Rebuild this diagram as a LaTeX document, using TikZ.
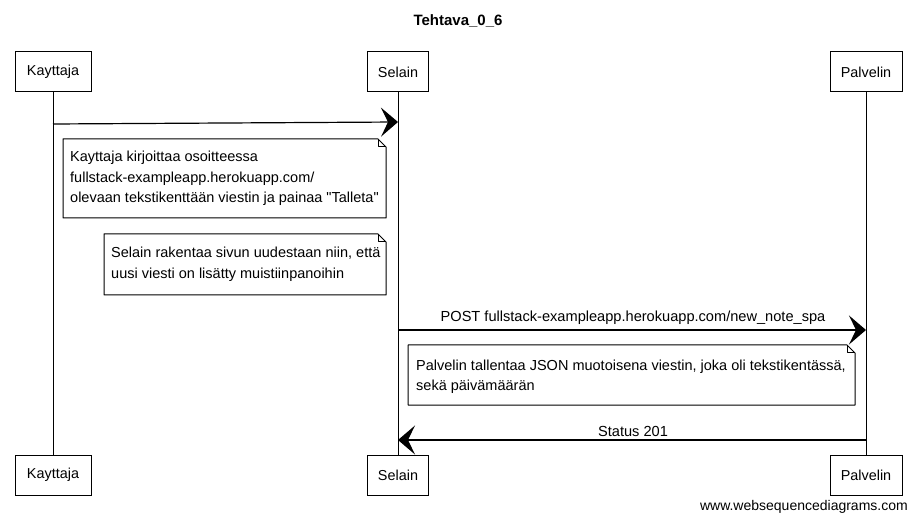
\documentclass[tikz,border=0pt]{standalone}
\usepackage{fontspec}
\setmainfont{Liberation Sans}[Ligatures=TeXOff]
\usetikzlibrary{arrows.meta}
\begin{document}
\begin{tikzpicture}[x=1pt,y=-1pt,
  lbl/.style={font=\fontsize{14.6}{17}\selectfont, inner sep=0pt},
  actor/.style={draw, line width=1pt, minimum height=40pt, inner sep=0pt, font=\fontsize{14.4}{17}\selectfont},
  notetext/.style={anchor=west, inner sep=0pt, align=left, font=\fontsize{14.5}{20.5}\selectfont},
  noteline/.style={line width=1pt, line join=round},
  life/.style={line width=0.8pt},
  msg/.style={line width=1.2pt, -{Stealth[length=17pt,width=29pt,inset=7pt]}}
]
\useasboundingbox (0,0) rectangle (916,521);
\node[font=\bfseries\fontsize{15}{18}\selectfont] (title) at (458,21) {Tehtava\_0\_6};

% actors top
\node[actor, minimum width=76pt] (kt) at (53,72) {Kayttaja};
\node[actor, minimum width=61pt] (st) at (398,72) {Selain};
\node[actor, minimum width=72pt] (pt) at (866,72) {Palvelin};
% actors bottom
\node[actor, minimum width=76pt] (kb) at (53,475) {Kayttaja};
\node[actor, minimum width=61pt] (sb) at (398,475) {Selain};
\node[actor, minimum width=72pt] (pb) at (866,475) {Palvelin};

% lifelines
\draw[life] (kt.south) -- (kb.north);
\draw[life] (st.south) -- (sb.north);
\draw[life] (pt.south) -- (pb.north);

% message 1
\coordinate (m1a) at (53,124);
\coordinate (m1b) at (398,122);
\draw[msg] (m1a) -- (m1b);

% note 1
\coordinate (n1nw) at (63,139);
\coordinate (n1se) at (386,218);
\draw[noteline] (n1nw) -- (378,139) -- (386,147) -- (n1se) -- (63,218) -- cycle;
\draw[noteline] (378,139) |- (386,147);
\node[notetext] (n1) at (70,178.5)
  {Kayttaja kirjoittaa osoitteessa\\fullstack-exampleapp.herokuapp.com/\\olevaan tekstikenttään viestin ja painaa "Talleta"};

% note 2
\coordinate (n2nw) at (104,234);
\coordinate (n2se) at (386,295);
\draw[noteline] (n2nw) -- (378,234) -- (386,242) -- (n2se) -- (104,295) -- cycle;
\draw[noteline] (378,234) |- (386,242);
\node[notetext] (n2) at (111,264.5)
  {Selain rakentaa sivun uudestaan niin, että\\uusi viesti on lisätty muistiinpanoihin};

% message 2
\coordinate (m2a) at (398,330);
\coordinate (m2b) at (866,330);
\draw[msg] (m2a) -- (m2b);
\node[lbl] (l2) at (633,318) {POST fullstack-exampleapp.herokuapp.com/new\_note\_spa};

% note 3
\coordinate (n3nw) at (408,345);
\coordinate (n3se) at (855,405);
\draw[noteline] (n3nw) -- (847,345) -- (855,353) -- (n3se) -- (408,405) -- cycle;
\draw[noteline] (847,345) |- (855,353);
\node[notetext] (n3) at (416,377)
  {Palvelin tallentaa JSON muotoisena viestin, joka oli tekstikentässä,\\sekä päivämäärän};

% message 3
\coordinate (m3a) at (866,440);
\coordinate (m3b) at (398,440);
\draw[msg] (m3a) -- (m3b);
\node[lbl] (l3) at (633,431) {Status 201};

% footer
\node[font=\fontsize{14}{16}\selectfont, anchor=east, inner sep=0pt] (foot) at (908,507) {www.websequencediagrams.com};
\end{tikzpicture}
\end{document}
